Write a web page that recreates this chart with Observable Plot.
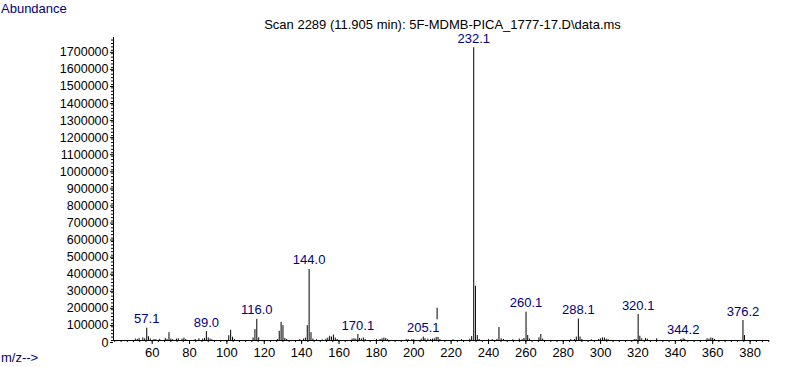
<!DOCTYPE html>
<html>
<head>
<meta charset="utf-8">
<script src="https://cdn.jsdelivr.net/npm/d3@7"></script>
<script src="https://cdn.jsdelivr.net/npm/@observablehq/plot@0.6"></script>
<style>
  html, body { margin: 0; padding: 0; background: #fff; }
  #chart { width: 787px; height: 367px; overflow: hidden; }
</style>
</head>
<body>
<div id="chart"></div>
<script>
// ---- data ----
const mz = [51, 52, 53, 55, 56, 57.1, 58, 59, 61, 62, 64, 67, 68, 69, 70, 71, 73, 74, 76, 77, 78, 83, 85, 87, 88, 89.0, 90, 91, 92,
  101, 102, 103, 104, 114, 115, 116.0, 117, 127, 128, 129, 130, 131, 132, 139, 141, 142, 143, 144.0, 145, 146, 148, 151,
  153, 154, 155, 156, 157, 158, 159, 167, 168, 169, 170.1, 171, 172, 173, 174, 180, 182, 183, 184, 185, 186,
  196, 197, 199, 200, 204, 205.1, 206, 207.5, 209, 210, 211, 212, 213, 214, 221, 225.5, 230, 231, 232.1, 233, 234, 235,
  240, 242, 244.5, 245.6, 246.8, 248, 253, 256.5, 258, 259, 260.1, 261, 262, 267, 268, 269, 284, 286, 287, 288.1, 289, 290,
  295, 299, 300, 301, 302, 303, 304, 318, 319, 320.1, 321, 322, 324, 325, 330, 343, 344.2, 345, 357, 358, 359, 360, 361,
  376.2, 377];
const abundance = [8000, 6000, 12000, 15000, 10000, 72000, 22000, 8000, 6000, 5000, 7000, 12000, 6000, 46000, 8000, 5000, 8000, 10000, 8000, 14000, 6000, 6000, 10000, 8000, 12000, 52000, 15000, 8000, 5000,
  28000, 60000, 19000, 6000, 15000, 64000, 124000, 15000, 6000, 54000, 106000, 87000, 12000, 6000, 5000, 8000, 14000, 87000, 416000, 46000, 8000, 5000, 4000,
  8000, 14000, 25000, 20000, 32000, 14000, 6000, 8000, 10000, 8000, 35000, 12000, 8000, 15000, 6000, 6000, 6000, 10000, 14000, 12000, 5000,
  5000, 5000, 5000, 4000, 8000, 20000, 10000, 8000, 6000, 8000, 10000, 18000, 18000, 6000, 4000, 5000, 8000, 23000, 1715000, 318000, 29000, 6000,
  5000, 5000, 6000, 76000, 10000, 6000, 4000, 8000, 5000, 12000, 166000, 29000, 8000, 15000, 35000, 8000, 5000, 6000, 20000, 126000, 20000, 6000,
  4000, 6000, 10000, 15000, 15000, 8000, 5000, 5000, 6000, 152000, 25000, 10000, 12000, 8000, 10000, 6000, 10000, 6000, 10000, 8000, 15000, 12000, 6000,
  117000, 29000];

const labelMz = [57.1, 89.0, 116.0, 144.0, 170.1, 205.1, 232.1, 260.1, 288.1, 320.1, 344.2, 376.2];
const labelText = ["57.1", "89.0", "116.0", "144.0", "170.1", "205.1", "232.1", "260.1", "288.1", "320.1", "344.2", "376.2"];

// floating marker line near m/z 212.5
const markerMz = [212.5];
const markerLow = [121000];
const markerHigh = [189000];

const xTickValues = [60, 80, 100, 120, 140, 160, 180, 200, 220, 240, 260, 280, 300, 320, 340, 360, 380];
const yTickValues = [0, 100000, 200000, 300000, 400000, 500000, 600000, 700000, 800000, 900000, 1000000,
  1100000, 1200000, 1300000, 1400000, 1500000, 1600000, 1700000];

const titleText = "Scan 2289 (11.905 min): 5F-MDMB-PICA_1777-17.D\\data.ms";

// ---- build tables ----
const peaks = mz.map((m, i) => ({mz: m, ab: abundance[i]}));
const labels = labelMz.map((m, i) => ({mz: m, ab: abundance[mz.indexOf(m)], text: labelText[i]}));
const markers = markerMz.map((m, i) => ({mz: m, y1: markerLow[i], y2: markerHigh[i]}));

const xMinor = d3.range(40, 391, 10 / 3).filter(v => v <= 390.4);
const yMinor = d3.range(0, 1775001, 20000);

const navy = "#000080";
const font = "'Liberation Sans', Arial, sans-serif";

const chart = Plot.plot({
  width: 787,
  height: 367,
  marginLeft: 113,
  marginRight: 18,
  marginTop: 37,
  marginBottom: 27,
  x: {domain: [39.3, 390.4]},
  y: {domain: [0, 1775000]},
  style: {fontFamily: font, fontSize: "13px", color: "black", background: "white"},
  marks: [
    // minor ticks
    Plot.axisX({ticks: xMinor, tickSize: 2, tickFormat: () => "", label: null, stroke: "black", strokeOpacity: 1}),
    Plot.axisY({ticks: yMinor, tickSize: 2, tickFormat: () => "", label: null, stroke: "black", strokeOpacity: 1}),
    // major ticks + labels
    Plot.axisX({ticks: xTickValues, tickSize: 4, tickPadding: 3, tickFormat: d => String(d), label: null,
      fontSize: 13, stroke: "black", strokeOpacity: 1}),
    Plot.axisY({ticks: yTickValues, tickSize: 3, tickPadding: 2, tickFormat: d => String(d), label: null,
      fontSize: 12.5, stroke: "black", strokeOpacity: 1, dy: 2}),
    // axis lines
    Plot.ruleY([0], {stroke: "black"}),
    Plot.ruleX([39.3], {stroke: "black"}),
    // title
    Plot.text([titleText], {frameAnchor: "top", dx: 1, dy: -9, lineAnchor: "bottom", fontSize: 13, fill: "black", text: d => d}),
    // peaks
    Plot.ruleX(peaks, {x: "mz", y1: 0, y2: "ab", stroke: "black", strokeWidth: 1}),
    Plot.ruleX(markers, {x: "mz", y1: "y1", y2: "y2", stroke: "black", strokeWidth: 1}),
    // peak labels
    Plot.text(labels, {x: "mz", y: "ab", text: "text", lineAnchor: "bottom", dy: -5, fill: navy, fontSize: 13})
  ]
});

const svg = d3.select(chart);
svg.append("text").attr("x", 1).attr("y", 13).attr("fill", navy).attr("text-anchor", "start")
  .style("font-family", font).style("font-size", "13px").text("Abundance");
svg.append("text").attr("x", 1).attr("y", 362).attr("fill", navy).attr("text-anchor", "start")
  .style("font-family", font).style("font-size", "13px").text("m/z-->");

document.getElementById("chart").appendChild(chart);
</script>
</body>
</html>
